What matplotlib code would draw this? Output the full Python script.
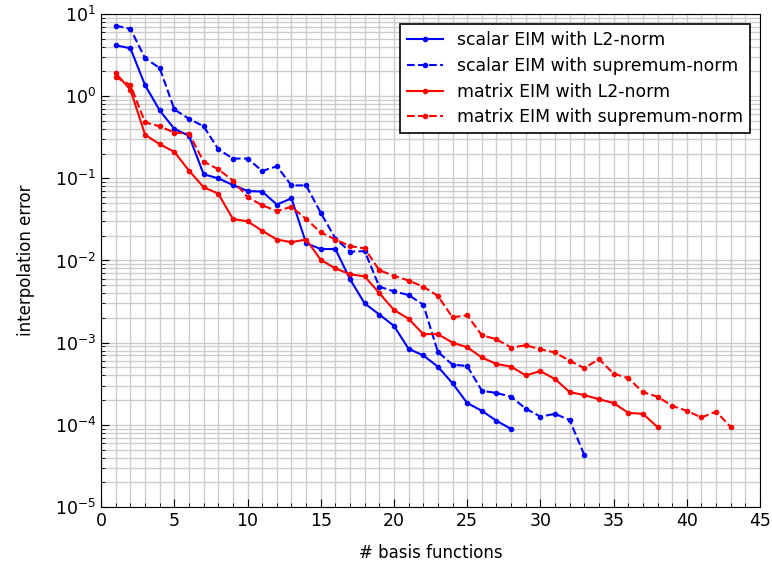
import matplotlib
matplotlib.use("Agg")
import matplotlib.pyplot as plt
import numpy as np

# interpolation error vs number of basis functions
scalar_l2 = [4.16, 3.83, 1.36, 0.67, 0.40, 0.33, 0.112, 0.10, 0.083, 0.070,
             0.069, 0.048, 0.057, 0.0162, 0.0138, 0.0138, 0.0059, 0.0030, 0.0022, 0.0016,
             0.00084, 0.00070, 0.00051, 0.00032, 0.000184, 0.000148, 0.000112, 0.000089]
scalar_sup = [7.2, 6.6, 2.9, 2.2, 0.69, 0.53, 0.43, 0.226, 0.174, 0.174,
              0.123, 0.14, 0.082, 0.082, 0.038, 0.0185, 0.0128, 0.013, 0.0048, 0.0042,
              0.0038, 0.0029, 0.00077, 0.00054, 0.00052, 0.00026, 0.000244, 0.00022, 0.000157, 0.000126,
              0.000136, 0.000114, 0.000043]
matrix_l2 = [1.9, 1.2, 0.34, 0.26, 0.21, 0.124, 0.078, 0.065, 0.032, 0.030,
             0.023, 0.018, 0.0167, 0.018, 0.0102, 0.0080, 0.0068, 0.0064, 0.0040, 0.0025,
             0.00195, 0.00127, 0.00127, 0.00100, 0.00088, 0.00066, 0.00055, 0.00051, 0.00040, 0.00045,
             0.00036, 0.00025, 0.00023, 0.000205, 0.000184, 0.00014, 0.000136, 0.000094]
matrix_sup = [1.7, 1.37, 0.48, 0.43, 0.36, 0.35, 0.16, 0.129, 0.094, 0.059,
              0.047, 0.040, 0.045, 0.032, 0.022, 0.018, 0.015, 0.014, 0.0076, 0.0065,
              0.0057, 0.0048, 0.0037, 0.00203, 0.00216, 0.00123, 0.00110, 0.00087, 0.00093, 0.00083,
              0.00076, 0.00060, 0.00049, 0.00063, 0.00042, 0.00037, 0.00025, 0.00022, 0.00017, 0.000148,
              0.000123, 0.000145, 0.000094]

def n(vals):
    return np.arange(1, len(vals) + 1)

fig = plt.figure(figsize=(7.72, 5.65), dpi=100)
ax = fig.add_axes([0.131, 0.1027, 0.8535, 0.8725])

ax.semilogy(n(scalar_l2), scalar_l2, "b.-", ms=6, lw=1.5, label="scalar EIM with L2-norm")
ax.semilogy(n(scalar_sup), scalar_sup, "b.--", ms=6, lw=1.5, label="scalar EIM with supremum-norm")
ax.semilogy(n(matrix_l2), matrix_l2, "r.-", ms=6, lw=1.5, label="matrix EIM with L2-norm")
ax.semilogy(n(matrix_sup), matrix_sup, "r.--", ms=6, lw=1.5, label="matrix EIM with supremum-norm")

ax.set_xlim(0, 45)
ax.set_ylim(1e-5, 1e1)
ax.set_xticks(np.arange(0, 46, 5))
ax.set_xticks(np.arange(0, 46, 1), minor=True)
ax.grid(True, which="both", color="#cccccc", lw=1)
ax.set_axisbelow(True)
ax.tick_params(which="both", direction="in", top=False, right=False, labelsize=12.5)
ax.tick_params(which="major", length=6)
ax.tick_params(which="minor", length=3)

ax.set_xlabel("# basis functions", fontsize=12, labelpad=10)
ax.set_ylabel("interpolation error", fontsize=12, labelpad=14)
leg = ax.legend(loc="upper right", fontsize=12.4, fancybox=False, framealpha=1,
                edgecolor="black", handlelength=2.1, handletextpad=0.8,
                borderaxespad=0.6, labelspacing=0.45)
leg.get_frame().set_linewidth(1.2)

fig.savefig("out.png", dpi=100)
